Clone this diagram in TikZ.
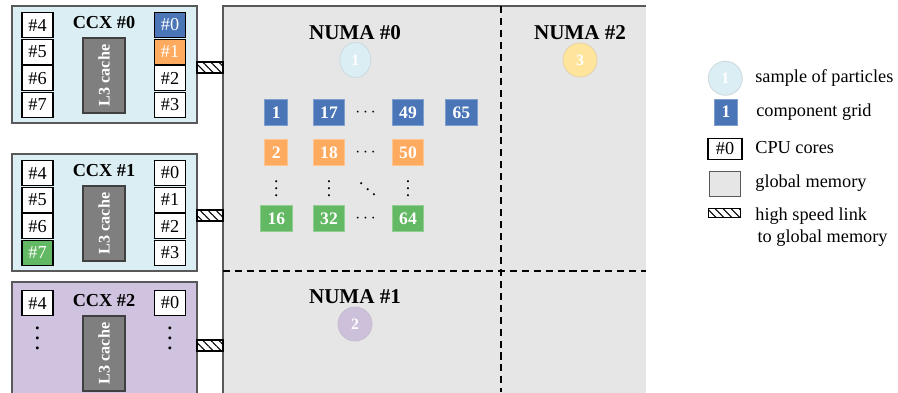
\documentclass[tikz,border=0pt]{standalone}
\usepackage{amsmath}
\usepackage{fontspec}
\setmainfont{Liberation Serif}
\usetikzlibrary{patterns.meta}
\usetikzlibrary{shapes.geometric}
\definecolor{ccxblue}{HTML}{DBEEF4}
\definecolor{ccxpurple}{HTML}{CFC3DF}
\definecolor{memgray}{HTML}{E6E6E6}
\definecolor{framegray}{HTML}{595959}
\definecolor{cachegray}{HTML}{7F7F7F}
\definecolor{gridblue}{HTML}{4A75B7}
\definecolor{gridorange}{HTML}{FFAB5F}
\definecolor{gridgreen}{HTML}{63B963}
\definecolor{pone}{HTML}{DAEEF3}
\definecolor{ptwo}{HTML}{CCC0DA}
\definecolor{pthree}{HTML}{FFE49C}
\tikzset{
	ccxframe/.style={draw=framegray,line width=0.6pt},
	ccxtitle/.style={font=\fontsize{10.4}{12}\selectfont\bfseries},
	core/.style={shape=rectangle,draw=black,line width=0.6pt,fill=white,minimum width=0.62cm,minimum height=0.5cm,inner sep=0pt,font=\fontsize{10.4}{12}\selectfont},
	busy/.style={fill=#1,text=white},
	ccx0-0/.style={busy=gridblue},
	ccx0-1/.style={busy=gridorange},
	ccx1-7/.style={busy=gridgreen},
	cache/.style={shape=rectangle,draw=black!75,line width=0.6pt,fill=cachegray,text=white,rotate=90,minimum width=1.5cm,minimum height=0.84cm,inner sep=0pt,font=\fontsize{9.2}{11}\selectfont\bfseries},
	link/.style={shape=rectangle,draw=black,line width=0.6pt,fill=white,postaction={pattern={Lines[angle=-45,distance=3.2pt,line width=0.6pt]}},minimum width=0.52cm,minimum height=0.22cm,inner sep=0pt},
	numatitle/.style={font=\fontsize{12}{14}\selectfont\bfseries},
	particle/.style={shape=circle,fill=#1,draw=#1!85!black!70!white,line width=0.5pt,text=white,minimum size=0.68cm,inner sep=0pt,font=\fontsize{9}{11}\selectfont\bfseries},
	cell/.style={shape=rectangle,fill=#1,draw=#1!70!white,line width=0.4pt,text=white,minimum width=0.46cm,minimum height=0.52cm,inner ysep=0pt,inner xsep=3.9pt,font=\fontsize{10}{12}\selectfont\bfseries},
	gap/.style={inner sep=0pt},
	keytext/.style={anchor=west,inner xsep=0pt,font=\fontsize{10.4}{12}\selectfont},
	numasplit/.style={line width=1.1pt,dash pattern=on 4pt off 2.8pt}
}
\newcommand{\drawccx}[6]{
	\draw[ccxframe,fill=#6] (12,#1) rectangle (197,#2);
	\draw (104,#3+17) node (#4) [ccxtitle] {CCX \##5};
	\draw (104,#3+69.5) node (#4l3) [cache] {L3 cache};
	\draw (210,#3+61.5) node (#4link) [link] {};
}

\begin{document}
\begin{tikzpicture}[x=0.02cm,y=-0.02cm]
\path[use as bounding box,clip] (0,0) rectangle (898,392);
\fill[memgray] (223,6) rectangle (646,400);
\draw[draw=framegray,line width=0.8pt] (223,400) -- (223,6) -- (646,6);
\draw[numasplit] (501,6) -- (501,392);
\draw[numasplit] (223,270.7) -- (646,270.7);
\drawccx{6}{123}{6}{ccx0}{0}{ccxblue}
\drawccx{154}{271}{154}{ccx1}{1}{ccxblue}
\drawccx{282}{400}{284}{ccx2}{2}{ccxpurple}
\foreach \c/\o in {ccx0/6,ccx1/154} {
	\foreach \k/\l in {0/4,1/5,2/6,3/7} {
		\draw (37.5,\o+19+26.6*\k) node (\c-c\l) [core,\c-\l/.try] {\#\l};
		\draw (170,\o+19+26.6*\k) node (\c-c\k) [core,\c-\k/.try] {\#\k};
	}
}
\draw (37.5,303) node (ccx2-c4) [core] {\#4};
\draw (170,303) node (ccx2-c0) [core] {\#0};
\draw (37.5,331) node (ccx2-vl) [gap,scale=1.4] {$\vdots$};
\draw (170,331) node (ccx2-vr) [gap,scale=1.4] {$\vdots$};
\draw (355,33) node (numa0) [numatitle] {NUMA \#0};
\draw (580,33) node (numa2) [numatitle] {NUMA \#2};
\draw (355,297) node (numa1) [numatitle] {NUMA \#1};
\draw (355.3,60) node (part1) [particle=pone,shape=ellipse,minimum width=0.62cm,minimum height=0.7cm] {1};
\draw (580,60) node (part3) [particle=pthree] {3};
\draw (355,324) node (part2) [particle=ptwo] {2};
\foreach \n/\x/\y/\col in {1/276.3/112.5/gridblue,17/329/112.5/gridblue,49/408/112.5/gridblue,65/461.3/112.5/gridblue,2/276.3/152.3/gridorange,18/329/152.3/gridorange,50/408/152.3/gridorange,16/276.3/218.3/gridgreen,32/329/218.3/gridgreen,64/408/218.3/gridgreen} {
	\draw (\x,\y) node (g\n) [cell=\col] {\n};
}
\foreach \r/\y in {a/113,b/153,c/219} {
	\draw (367,\y) node (hd\r) [gap] {$\cdots$};
}
\foreach \r/\x in {a/276.3,b/329,c/408} {
	\draw (\x,183) node (vd\r) [gap] {$\vdots$};
}
\draw (367.7,184) node (dd) [gap] {$\ddots$};
\draw (725.3,78.3) node (keypart) [particle=pone] {1};
\draw (755,78) node (keyparttext) [keytext] {sample of particles};
\draw (726,112) node (keycell) [cell=gridblue,minimum width=0.44cm] {1};
\draw (756,112) node (keycelltext) [keytext] {component grid};
\draw (725,149) node (keycore) [core,minimum width=0.68cm,minimum height=0.42cm] {\#0};
\draw (755,147.3) node (keycoretext) [keytext] {CPU cores};
\draw (725.4,184.3) node (keymem) [shape=rectangle,draw=framegray,line width=0.6pt,fill=memgray,minimum width=0.62cm,minimum height=0.5cm] {};
\draw (755,183.3) node (keymemtext) [keytext] {global memory};
\draw (724.3,213) node (keylink) [link,minimum width=0.65cm,minimum height=0.19cm] {};
\draw (755,227.5) node (keylinktext) [keytext,align=left,font=\fontsize{10.4}{12.5}\selectfont] {high speed link\\\hspace{1.3pt}to global memory};
\end{tikzpicture}
\end{document}
